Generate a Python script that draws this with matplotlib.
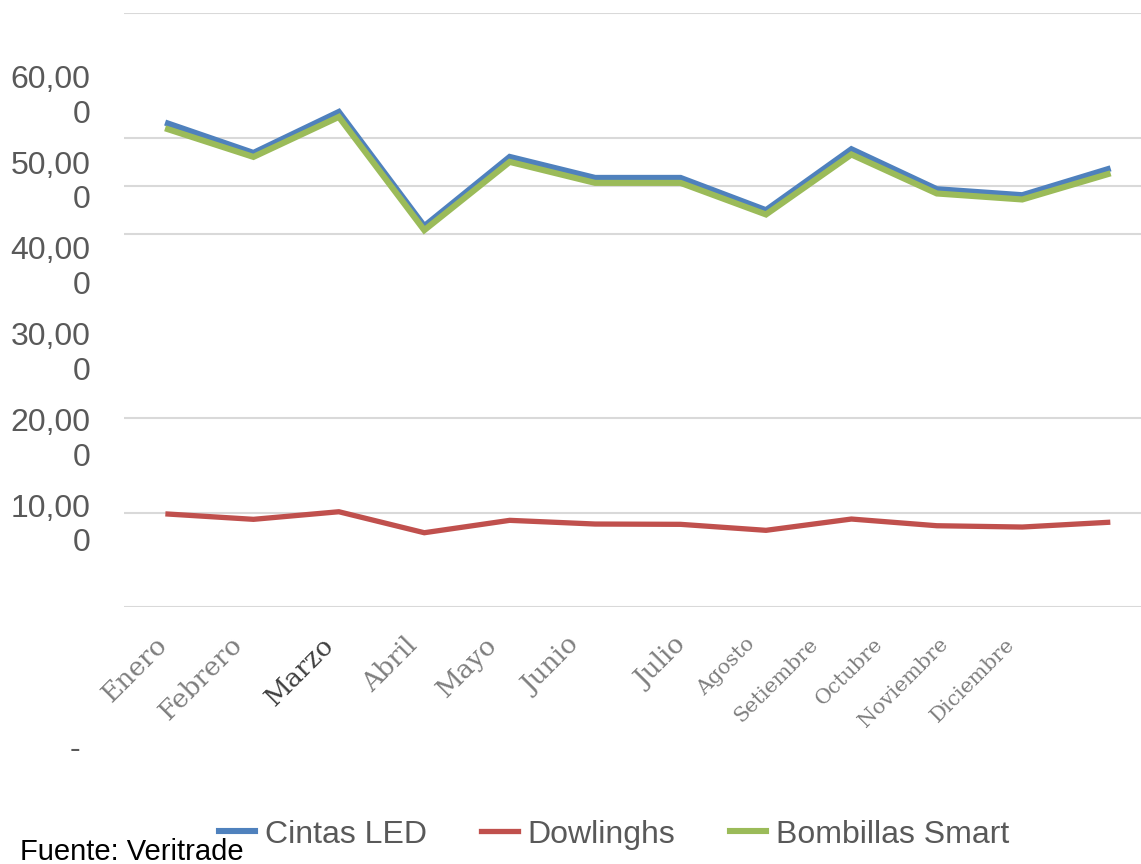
import matplotlib
matplotlib.use("Agg")
import matplotlib.pyplot as plt

plt.rcParams['font.family'] = 'Liberation Sans'

meses = ["Enero", "Febrero", "Marzo", "Abril", "Mayo", "Junio", "Julio",
         "Agosto", "Setiembre", "Octubre", "Noviembre", "Diciembre"]

cintas_led = [56935, 53508, 58287, 44965, 53042, 50594, 50594, 46830, 53939, 49277, 48578, 51608]
dowlinghs = [11399, 10781, 11667, 9219, 10664, 10233, 10198, 9499, 10816, 10035, 9883, 10431]
bombillas_smart = [56270, 53042, 57704, 44499, 52459, 50012, 50012, 46329, 53322, 48776, 48077, 51026]

ytick_vals = [10000, 20000, 30000, 40000, 50000, 60000]
ytick_labels = ["10,00\n0", "20,00\n0", "30,00\n0", "40,00\n0", "50,00\n0", "60,00\n0"]

# gridlines in the original are not evenly spaced
grid_vals = [594, 11550, 22552, 43997, 49627, 55256, 69787]

# where the month labels sit (the picture shifts them)
label_pos = [-0.059, 0.819, 1.896, 2.867, 3.803, 4.763, 6.015, 6.834, 7.572, 8.332, 9.093, 9.877]

fig = plt.figure(figsize=(11.41, 8.64), dpi=100)
ax = fig.add_axes([124/1141, (864-606.7)/864, 1017/1141, 593.4/864])

for g in grid_vals:
    ax.axhline(g, color="#d9d9d9", lw=1.5, zorder=0)

x = list(range(len(meses)))
ax.plot(x, cintas_led, color="#4F81BD", lw=4.4, label="Cintas LED", solid_joinstyle="miter")
ax.plot(x, dowlinghs, color="#C0504D", lw=3.8, label="Dowlinghs", solid_joinstyle="miter")
ax.plot(x, bombillas_smart, color="#9BBB59", lw=4.4, label="Bombillas Smart", solid_joinstyle="miter")

ax.set_xlim(-0.515, 11.39)
ax.set_ylim(grid_vals[0], grid_vals[-1])

for s in ax.spines.values():
    s.set_visible(False)

ax.set_xticks([])
ax.set_yticks(ytick_vals, ytick_labels)
ax.tick_params(axis='y', length=0, pad=24, labelsize=23, labelcolor="#595959")
for t in ax.get_yticklabels():
    t.set_verticalalignment('center')

# rotated month labels
trans = ax.get_xaxis_transform()
for i, (m, p) in enumerate(zip(meses, label_pos)):
    if i < 7:
        size = 19
    else:
        size = 15
    col = "#404040" if m == "Marzo" else "#7f7f7f"
    ax.text(p, -(641 - 606.7)/593.4, m, transform=trans, rotation=45,
            rotation_mode='anchor', ha='right', va='center',
            fontsize=size, color=col, family='DejaVu Serif')

fig.text(75/1141, 1 - 750/864, "-", fontsize=23, color="#595959", ha='center', va='center')

ax.legend(loc='center', bbox_to_anchor=(0.538, 0.034), bbox_transform=fig.transFigure,
          ncol=3, frameon=False, fontsize=23, handlelength=1.15, handletextpad=0.3,
          columnspacing=1.7, labelcolor="#595959")

fig.text(20/1141, 1 - 852/864, "Fuente: Veritrade", fontsize=21, color="black", va='center')

plt.savefig("out.png", dpi=100)
